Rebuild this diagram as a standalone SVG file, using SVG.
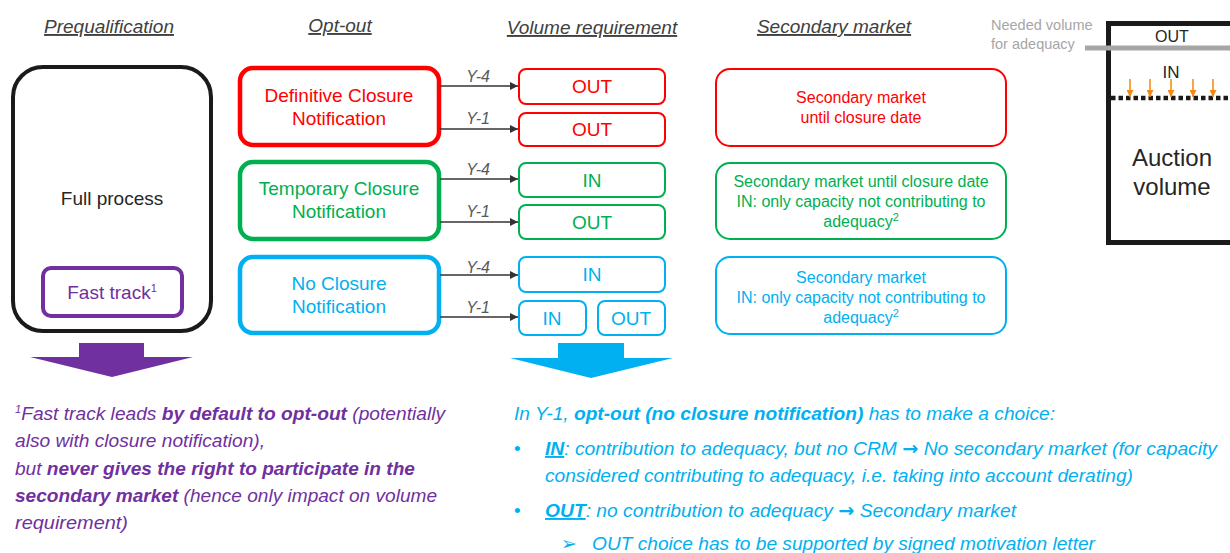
<svg xmlns="http://www.w3.org/2000/svg" width="1230" height="553" viewBox="0 0 1230 553">
  <style>
    text { font-family: "Liberation Sans", Arial, sans-serif; }
    .hdr { font-size: 19px; font-style: italic; fill: #404040; text-decoration: underline; text-anchor: middle; }
    .red { fill: #FF0000; }
    .grn { fill: #00B050; }
    .blu { fill: #00B0F0; }
    .pur { fill: #7030A0; }
    .big { fill: #FFFFFF; stroke-width: 4.5; }
    .vol { fill: #FFFFFF; stroke-width: 2; }
    .sec { fill: #FFFFFF; stroke-width: 2; }
    .s-red { stroke: #FF0000; }
    .s-grn { stroke: #00B050; }
    .s-blu { stroke: #00B0F0; }
    .t19 { font-size: 19px; text-anchor: middle; }
    .t16 { font-size: 16px; text-anchor: middle; }
    .yl { font-size: 16px; font-style: italic; fill: #595959; text-anchor: middle; }
    .conn { stroke: #333333; stroke-width: 1.5; fill: none; marker-end: url(#ah); }
    .note { font-size: 19px; font-style: italic; }
    .b { font-weight: bold; }
    .u { text-decoration: underline; }
    .sup { font-size: 11px; }
    .arr { font-family: "DejaVu Sans", sans-serif; font-weight: bold; font-style: normal; }
  </style>
  <defs>
    <marker id="ah" viewBox="0 0 10 10" refX="10" refY="5" markerWidth="8" markerHeight="8" markerUnits="userSpaceOnUse" orient="auto">
      <path d="M0,0 L10,5 L0,10 z" fill="#333333"/>
    </marker>
    <marker id="oah" viewBox="0 0 10 10" refX="10" refY="5" markerWidth="7" markerHeight="7" markerUnits="userSpaceOnUse" orient="auto">
      <path d="M0,0 L10,5 L0,10 z" fill="#F5870F"/>
    </marker>
  </defs>

  <!-- column headers -->
  <g id="headers">
    <text class="hdr" x="109" y="33">Prequalification</text>
    <text class="hdr" x="340" y="32">Opt-out</text>
    <text class="hdr" x="592" y="34">Volume requirement</text>
    <text class="hdr" x="834" y="33">Secondary market</text>
  </g>

  <!-- prequalification -->
  <g id="prequalification">
    <rect x="13" y="67" width="198" height="264" rx="30" fill="#FFFFFF" stroke="#1A1A1A" stroke-width="4"/>
    <text class="t19" x="112" y="205" fill="#262626">Full process</text>
  </g>
  <g id="fast-track">
    <rect x="43" y="268" width="139" height="48" rx="8" fill="#FFFFFF" stroke="#7030A0" stroke-width="4"/>
    <text class="t19 pur" x="112" y="299" font-size="18">Fast track<tspan class="sup" dy="-7">1</tspan></text>
  </g>

  <!-- opt-out choices -->
  <g id="opt-definitive">
    <rect class="big s-red" x="240" y="68" width="199" height="77" rx="13"/>
    <text class="t19 red" x="339" y="102">Definitive Closure</text>
    <text class="t19 red" x="339" y="125">Notification</text>
  </g>
  <g id="opt-temporary">
    <rect class="big s-grn" x="240" y="162" width="199" height="77" rx="13"/>
    <text class="t19 grn" x="339" y="195">Temporary Closure</text>
    <text class="t19 grn" x="339" y="218">Notification</text>
  </g>
  <g id="opt-none">
    <rect class="big s-blu" x="240" y="257" width="199" height="76" rx="13"/>
    <text class="t19 blu" x="339" y="290">No Closure</text>
    <text class="t19 blu" x="339" y="313">Notification</text>
  </g>

  <!-- volume requirement -->
  <g id="vol-def-y4">
    <rect class="vol s-red" x="519" y="69" width="146" height="35" rx="7"/>
    <text class="t19 red" x="592" y="93">OUT</text>
  </g>
  <g id="vol-def-y1">
    <rect class="vol s-red" x="519" y="113" width="146" height="33" rx="7"/>
    <text class="t19 red" x="592" y="136">OUT</text>
  </g>
  <g id="vol-tmp-y4">
    <rect class="vol s-grn" x="519" y="163" width="146" height="34" rx="7"/>
    <text class="t19 grn" x="592" y="187">IN</text>
  </g>
  <g id="vol-tmp-y1">
    <rect class="vol s-grn" x="519" y="205" width="146" height="34" rx="7"/>
    <text class="t19 grn" x="592" y="229">OUT</text>
  </g>
  <g id="vol-none-y4">
    <rect class="vol s-blu" x="519" y="257" width="146" height="35" rx="7"/>
    <text class="t19 blu" x="592" y="281">IN</text>
  </g>
  <g id="vol-none-y1-in">
    <rect class="vol s-blu" x="519" y="301" width="67" height="34" rx="7"/>
    <text class="t19 blu" x="552" y="325">IN</text>
  </g>
  <g id="vol-none-y1-out">
    <rect class="vol s-blu" x="598" y="301" width="67" height="34" rx="7"/>
    <text class="t19 blu" x="631" y="325">OUT</text>
  </g>

  <!-- secondary market -->
  <g id="sec-def">
    <rect class="sec s-red" x="716" y="69" width="290" height="77" rx="14"/>
    <text class="t16 red" x="861" y="103">Secondary market</text>
    <text class="t16 red" x="861" y="123">until closure date</text>
  </g>
  <g id="sec-tmp">
    <rect class="sec s-grn" x="716" y="163" width="290" height="76" rx="14"/>
    <text class="t16 grn" x="861" y="187">Secondary market until closure date</text>
    <text class="t16 grn" x="861" y="207">IN: only capacity not contributing to</text>
    <text class="t16 grn" x="861" y="227">adequacy<tspan class="sup" dy="-6">2</tspan></text>
  </g>
  <g id="sec-none">
    <rect class="sec s-blu" x="716" y="257" width="290" height="77" rx="14"/>
    <text class="t16 blu" x="861" y="283">Secondary market</text>
    <text class="t16 blu" x="861" y="303">IN: only capacity not contributing to</text>
    <text class="t16 blu" x="861" y="323">adequacy<tspan class="sup" dy="-6">2</tspan></text>
  </g>

  <!-- connectors: opt-out to volume requirement -->
  <g id="connectors">
    <line class="conn" x1="440" y1="86" x2="518" y2="86"/>
    <line class="conn" x1="440" y1="129" x2="518" y2="129"/>
    <line class="conn" x1="440" y1="179" x2="518" y2="179"/>
    <line class="conn" x1="440" y1="222" x2="518" y2="222"/>
    <line class="conn" x1="440" y1="275" x2="518" y2="275"/>
    <line class="conn" x1="440" y1="317" x2="518" y2="317"/>
    <text class="yl" x="478" y="82">Y-4</text>
    <text class="yl" x="478" y="124">Y-1</text>
    <text class="yl" x="478" y="175">Y-4</text>
    <text class="yl" x="478" y="217">Y-1</text>
    <text class="yl" x="478" y="273">Y-4</text>
    <text class="yl" x="478" y="313">Y-1</text>
  </g>

  <!-- auction volume -->
  <g id="auction">
    <rect x="1108.5" y="23.5" width="200" height="219" fill="#FFFFFF" stroke="#1A1A1A" stroke-width="5"/>
    <text x="1172" y="42" font-size="16" text-anchor="middle" fill="#262626">OUT</text>
    <text x="1171" y="78" font-size="17" text-anchor="middle" fill="#262626">IN</text>
    <line x1="1111" y1="98" x2="1230" y2="98" stroke="#1A1A1A" stroke-width="4.5" stroke-dasharray="4.5 3"/>
    <line x1="1130" y1="79" x2="1130" y2="97" stroke="#F5870F" stroke-width="1.5" marker-end="url(#oah)"/>
    <line x1="1150" y1="79" x2="1150" y2="97" stroke="#F5870F" stroke-width="1.5" marker-end="url(#oah)"/>
    <line x1="1171" y1="79" x2="1171" y2="97" stroke="#F5870F" stroke-width="1.5" marker-end="url(#oah)"/>
    <line x1="1193" y1="79" x2="1193" y2="97" stroke="#F5870F" stroke-width="1.5" marker-end="url(#oah)"/>
    <line x1="1213" y1="79" x2="1213" y2="97" stroke="#F5870F" stroke-width="1.5" marker-end="url(#oah)"/>
    <text x="1172" y="166" font-size="24" text-anchor="middle" fill="#262626">Auction</text>
    <text x="1172" y="195" font-size="24" text-anchor="middle" fill="#262626">volume</text>
  </g>
  <g id="adequacy-level">
    <line x1="1085" y1="48" x2="1230" y2="48" stroke="#A6A6A6" stroke-width="5"/>
    <text x="991" y="30" font-size="14.5" fill="#A6A6A6">Needed volume</text>
    <text x="991" y="49" font-size="14.5" fill="#A6A6A6">for adequacy</text>
  </g>

  <!-- summary arrows -->
  <polygon id="arrow-fast-track" points="79,343 144,343 144,357 193,357 112,377 30,357 79,357" fill="#7030A0"/>
  <polygon id="arrow-no-closure" points="558,343 624,343 624,358 673,358 591,378 510,358 558,358" fill="#00B0F0"/>

  <!-- footnote on fast track -->
  <g id="note-fast-track" class="pur">
    <text class="note" x="15" y="420" textLength="430" lengthAdjust="spacingAndGlyphs"><tspan class="sup" dy="-7">1</tspan><tspan dy="7">Fast track leads </tspan><tspan class="b">by default to opt-out</tspan> (potentially</text>
    <text class="note" x="15" y="447" textLength="250" lengthAdjust="spacingAndGlyphs">also with closure notification),</text>
    <text class="note" x="15" y="475" textLength="400" lengthAdjust="spacingAndGlyphs">but <tspan class="b">never gives the right to participate in the</tspan></text>
    <text class="note" x="15" y="502" textLength="422" lengthAdjust="spacingAndGlyphs"><tspan class="b">secondary market</tspan> (hence only impact on volume</text>
    <text class="note" x="15" y="529" textLength="113" lengthAdjust="spacingAndGlyphs">requirement)</text>
  </g>

  <!-- explanation of the Y-1 choice -->
  <g id="note-y1-choice" class="blu">
    <text class="note" x="514" y="420" textLength="541" lengthAdjust="spacingAndGlyphs">In Y-1, <tspan class="b">opt-out (no closure notification)</tspan> has to make a choice:</text>
    <text x="514" y="455" font-size="19">•</text>
    <text class="note" x="545" y="455" textLength="672" lengthAdjust="spacingAndGlyphs"><tspan class="b u">IN</tspan>: contribution to adequacy, but no CRM <tspan class="arr">→</tspan> No secondary market (for capacity</text>
    <text class="note" x="545" y="482" textLength="588" lengthAdjust="spacingAndGlyphs">considered contributing to adequacy, i.e. taking into account derating)</text>
    <text x="514" y="517" font-size="19">•</text>
    <text class="note" x="545" y="517" textLength="471" lengthAdjust="spacingAndGlyphs"><tspan class="b u">OUT</tspan>: no contribution to adequacy <tspan class="arr">→</tspan> Secondary market</text>
    <text x="561" y="550" font-size="19" font-family="DejaVu Sans, sans-serif">➢</text>
    <text class="note" x="592" y="550" textLength="503" lengthAdjust="spacingAndGlyphs">OUT choice has to be supported by signed motivation letter</text>
  </g>
</svg>
